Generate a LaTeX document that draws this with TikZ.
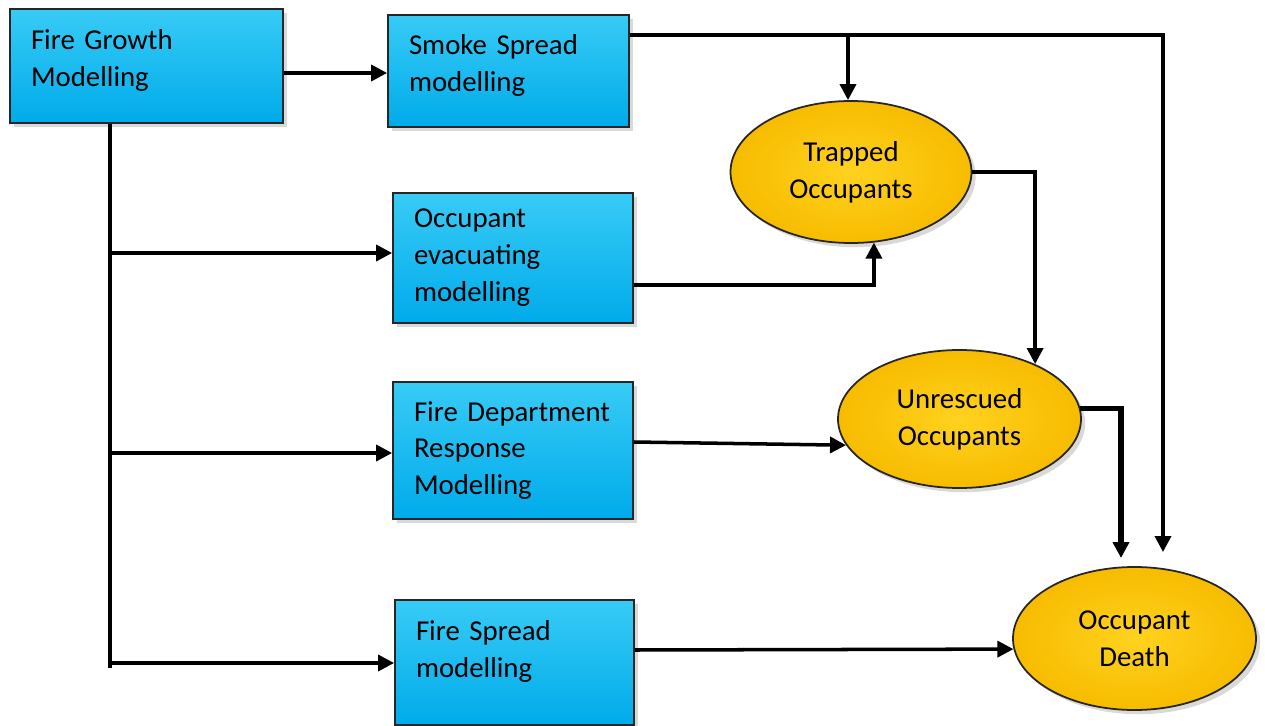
\documentclass[tikz,border=0pt]{standalone}
\usepackage{fontspec}
\setmainfont{Carlito}
\usetikzlibrary{arrows.meta,shadows,shapes.geometric}

\definecolor{boxblue}{HTML}{00ABEA}
\definecolor{boxlight}{HTML}{38CBF6}
\definecolor{ovalgold}{HTML}{F7BC00}
\definecolor{ovallight}{HTML}{FFD21F}

\newcommand{\diagfont}{\fontsize{16.4}{21}\selectfont}
\hyphenpenalty=10000
\exhyphenpenalty=10000

\tikzset{
  model/.style={draw=black!85, line width=1pt, rectangle, top color=boxlight, bottom color=boxblue,
    drop shadow={opacity=0.3}, align=left, inner xsep=0.42cm, font=\diagfont},
  outcome/.style={draw=black!85, line width=1pt, ellipse, inner color=ovallight, outer color=ovalgold,
    drop shadow={opacity=0.3}, align=center, inner sep=0pt, font=\diagfont},
  link/.style={-{Triangle[length=0.32cm,width=0.32cm]}, line width=2pt},
  trunk/.style={line width=2pt},
}

\begin{document}
\begin{tikzpicture}
        \useasboundingbox (0,0) rectangle (25.3,-14.52);
        % model boxes
        \node[model, text width=4.62cm, minimum height=2.28cm, text depth=1.07cm] (fireGrowth) at (2.93,-1.32) {Fire Growth\\Modelling};
        \node[model, text width=3.98cm, minimum height=2.24cm, text depth=1.07cm] (smokeSpread) at (10.17,-1.42) {Smoke Spread\\modelling};
        \node[model, text width=3.96cm, minimum height=2.60cm] (occEvac) at (10.26,-5.16) {Occupant\\evacuating\\modelling};
        \node[model, text width=3.96cm, minimum height=2.74cm] (fireDept) at (10.26,-9.01) {Fire Department\\Response\\Modelling};
        \node[model, text width=3.94cm, minimum height=2.50cm, text depth=1.27cm] (fireSpread) at (10.29,-13.25) {Fire Spread\\modelling};
        % outcomes
        \node[outcome, minimum width=4.82cm, minimum height=2.84cm] (trapped) at (17.02,-3.44) {Trapped\\Occupants};
        \node[outcome, minimum width=4.86cm, minimum height=2.76cm] (unrescued) at (19.19,-8.38) {Unrescued\\Occupants};
        \node[outcome, minimum width=4.86cm, minimum height=2.86cm] (death) at (22.69,-12.77) {Occupant\\Death};
        % trunk from fire growth
        \coordinate (trunkEnd) at (2.2,-13.36);
        \coordinate (evacFork) at (2.2,-5.06);
        \coordinate (deptFork) at (2.2,-9.06);
        \coordinate (spreadFork) at (2.2,-13.26);
        \draw [trunk] (fireGrowth.south -| trunkEnd) -- (trunkEnd);
        \draw [link] ([yshift=-0.14cm]fireGrowth.east) -- ([yshift=-0.14cm]fireGrowth.east -| smokeSpread.west);
        \draw [link] (evacFork) -- (evacFork -| occEvac.west);
        \draw [link] (deptFork) -- (deptFork -| fireDept.west);
        \draw [link] (spreadFork) -- (spreadFork -| fireSpread.west);
        % smoke spread
        \coordinate (smokeOut) at ([yshift=0.72cm]smokeSpread.east);
        \coordinate (deathTipR) at (23.26,-11.04);
        \coordinate (trapTop) at (16.96,-0.72);
        \draw [link] (smokeOut) -| (deathTipR);
        \draw [link] (trapTop) -- (trapTop |- trapped.north);
        % to the outcomes
        \draw [link] ([yshift=-0.54cm]occEvac.east) -| (trapped.-72.5);
        \draw [link] (trapped.east) -| (unrescued.36);
        \draw [link] ([yshift=0.17cm]fireDept.east) -- (unrescued.193);
        \coordinate (deathTipL) at (22.42,-11.16);
        \draw [link, line width=3pt] (unrescued.5) -| (deathTipL);
        \draw [link] ([yshift=0.25cm]fireSpread.east) -- (death.185);
\end{tikzpicture}
\end{document}
